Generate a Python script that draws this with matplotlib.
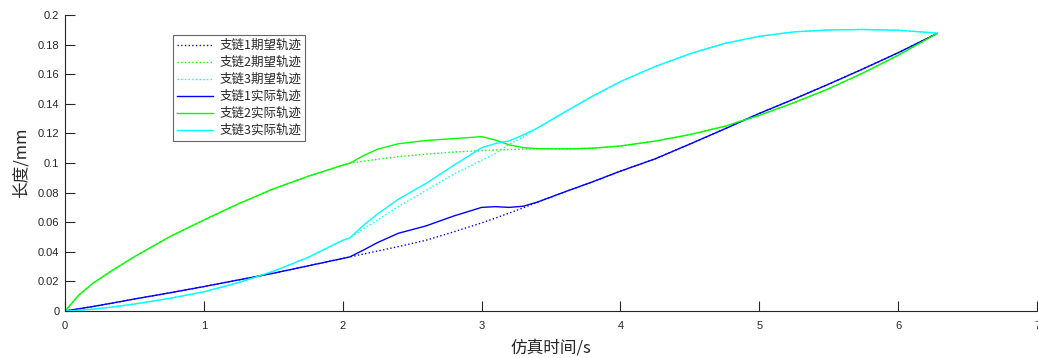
import numpy as np
import matplotlib
matplotlib.use("Agg")
import matplotlib.pyplot as plt
from matplotlib.ticker import FormatStrFormatter

plt.rcParams['font.family'] = ['Noto Sans CJK SC', 'DejaVu Sans']

# 仿真时间 (s)
t = [0, 0.1, 0.2, 0.35, 0.5, 0.75, 1.0, 1.25, 1.5, 1.75, 2.0, 2.05, 2.15, 2.25,
     2.4, 2.6, 2.8, 3.0, 3.1, 3.2, 3.3, 3.4, 3.6, 3.8, 4.0, 4.25, 4.5, 4.75,
     5.0, 5.25, 5.5, 5.75, 6.0, 6.28]

# 支链1
b1_ref = [0, 0.0015, 0.003, 0.0055, 0.0081, 0.0122, 0.0165, 0.021, 0.0255, 0.0305,
          0.0355, 0.0365, 0.0385, 0.0405, 0.0435, 0.0478, 0.0535, 0.0595, 0.0628,
          0.0662, 0.0697, 0.0735, 0.0805, 0.0873, 0.0945, 0.1028, 0.1128, 0.123,
          0.1335, 0.1432, 0.1533, 0.1637, 0.1745, 0.1875]
b1_act = [0, 0.0015, 0.003, 0.0055, 0.0081, 0.0122, 0.0165, 0.021, 0.0255, 0.0305,
          0.0355, 0.0365, 0.0412, 0.0462, 0.0525, 0.0575, 0.0642, 0.0700, 0.0705,
          0.0700, 0.0708, 0.0735, 0.0805, 0.0873, 0.0945, 0.1028, 0.1128, 0.123,
          0.1335, 0.1432, 0.1533, 0.1637, 0.1745, 0.1875]

# 支链2
b2_ref = [0, 0.0108, 0.0187, 0.028, 0.0367, 0.05, 0.0615, 0.0725, 0.0825, 0.091,
          0.0985, 0.0998, 0.1012, 0.1025, 0.1043, 0.106, 0.1074, 0.1084, 0.1088,
          0.1091, 0.1094, 0.1097, 0.1095, 0.11, 0.1115, 0.1148, 0.1192, 0.1248,
          0.1322, 0.1408, 0.1502, 0.161, 0.1728, 0.1875]
b2_act = [0, 0.0108, 0.0187, 0.028, 0.0367, 0.05, 0.0615, 0.0725, 0.0825, 0.091,
          0.0985, 0.0998, 0.105, 0.1093, 0.113, 0.1152, 0.1165, 0.1178, 0.1155,
          0.1122, 0.1104, 0.1097, 0.1095, 0.11, 0.1115, 0.1148, 0.1192, 0.1248,
          0.1322, 0.1408, 0.1502, 0.161, 0.1728, 0.1875]

# 支链3
b3_ref = [0, 0.0005, 0.0012, 0.0028, 0.0047, 0.0085, 0.013, 0.0192, 0.0268, 0.0362,
          0.0478, 0.0493, 0.0555, 0.0615, 0.0705, 0.0815, 0.0925, 0.1018, 0.1065,
          0.1128, 0.1175, 0.1235, 0.1345, 0.1452, 0.155, 0.1652, 0.1738, 0.1808,
          0.1856, 0.1886, 0.1899, 0.1902, 0.1897, 0.1878]
b3_act = [0, 0.0005, 0.0012, 0.0028, 0.0047, 0.0085, 0.013, 0.0192, 0.0268, 0.0362,
          0.0478, 0.0493, 0.058, 0.0655, 0.0755, 0.0862, 0.0985, 0.1103, 0.1132,
          0.115, 0.119, 0.1235, 0.1345, 0.1452, 0.155, 0.1652, 0.1738, 0.1808,
          0.1856, 0.1886, 0.1899, 0.1902, 0.1897, 0.1878]

labels = ['支链1期望轨迹', '支链2期望轨迹', '支链3期望轨迹',
          '支链1实际轨迹', '支链2实际轨迹', '支链3实际轨迹']
xticks = [0, 1, 2, 3, 4, 5, 6, 7]
yticks = [0, 0.02, 0.04, 0.06, 0.08, 0.1, 0.12, 0.14, 0.16, 0.18, 0.2]

fig = plt.figure(figsize=(10.38, 3.58), dpi=100)
ax = fig.add_axes([65 / 1038, 1 - 311 / 358, 972 / 1038, 296 / 358])

lw = 1.0
ax.plot(t, b1_ref, ':', color='#0000ff', lw=lw, label=labels[0])
ax.plot(t, b2_ref, ':', color='#00ff00', lw=lw, label=labels[1])
ax.plot(t, b3_ref, ':', color='#00ffff', lw=lw, label=labels[2])
ax.plot(t, b1_act, '-', color='#0000ff', lw=lw, label=labels[3])
ax.plot(t, b2_act, '-', color='#00ff00', lw=lw, label=labels[4])
ax.plot(t, b3_act, '-', color='#00ffff', lw=lw, label=labels[5])

ax.set_xlim(0, 7)
ax.set_ylim(0, 0.2)
ax.set_xticks(xticks)
ax.set_yticks(yticks)
ax.yaxis.set_major_formatter(FormatStrFormatter('%g'))

axc = '#262626'
for s in ['top', 'right']:
    ax.spines[s].set_visible(False)
for s in ['left', 'bottom']:
    ax.spines[s].set_color(axc)
    ax.spines[s].set_linewidth(0.8)
ax.tick_params(direction='in', length=7, width=0.8, color=axc, labelcolor=axc,
               labelsize=8)
ax.tick_params(axis='x', pad=7)
ax.tick_params(axis='y', pad=4)
for lab in ax.get_xticklabels() + ax.get_yticklabels():
    lab.set_family(['Liberation Sans', 'DejaVu Sans'])

ax.set_xlabel('仿真时间/s', fontsize=12, color=axc, labelpad=6)
ax.set_ylabel('长度/mm', fontsize=12, color=axc, labelpad=6)

leg = ax.legend(loc='upper left', bbox_to_anchor=(0.111, 0.932), fontsize=9,
                frameon=True, fancybox=False, borderaxespad=0, borderpad=0.3,
                labelspacing=0.32, handlelength=2.9, handletextpad=0.5)
leg.get_frame().set_edgecolor('#404040')
leg.get_frame().set_linewidth(0.8)
for txt in leg.get_texts():
    txt.set_color(axc)

fig.savefig('out.png', dpi=100)
